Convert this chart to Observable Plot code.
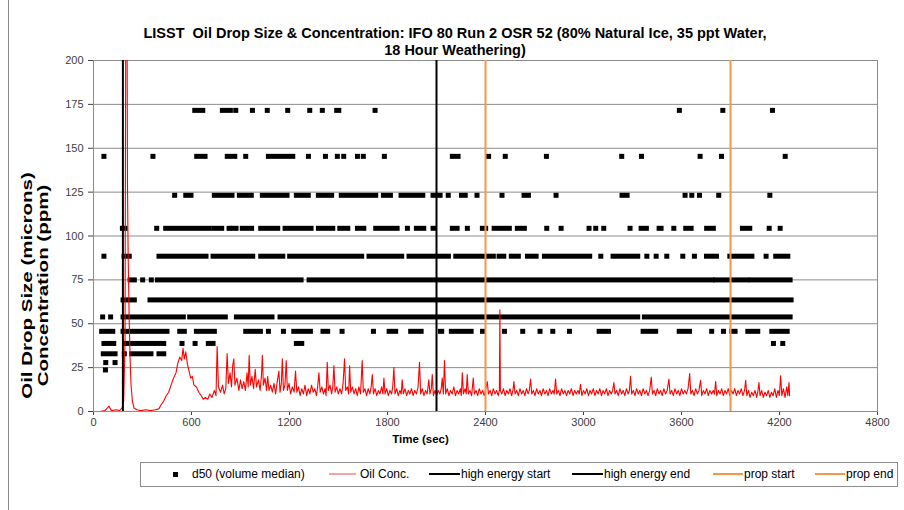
<!DOCTYPE html>
<html>
<head>
<meta charset="utf-8">
<script src="https://cdn.jsdelivr.net/npm/d3@7"></script>
<script src="https://cdn.jsdelivr.net/npm/@observablehq/plot@0.6"></script>
<style>
  body { margin: 0; background: #fff; }
  #wrap { position: relative; width: 904px; height: 510px; overflow: hidden; font-family: "Liberation Sans", Arial, sans-serif; background: #fff; }
  #border { position: absolute; left: 8px; top: 0; width: 1px; height: 510px; background: #8c8c8c; }
  #title { height: 59px; box-sizing: border-box; padding-top: 25px; padding-left: 6px; text-align: center; font-weight: bold; font-size: 14.5px; line-height: 17px; color: #000; }
  #legend { position: relative; height: 58px; font-size: 12px; color: #000; }
  #legend .box { position: absolute; left: 140px; top: 10px; width: 758px; height: 25px; border: 1px solid #8c8c8c; box-sizing: border-box; }
  #legend .it { position: absolute; top: 15px; line-height: 14px; white-space: nowrap; }
  #legend .sw { position: absolute; }
</style>
</head>
<body>
<div id="wrap">
  <div id="border"></div>
  <div id="title">LISST&nbsp; Oil Drop Size &amp; Concentration: IFO 80 Run 2 OSR 52 (80% Natural Ice, 35 ppt Water,<br>18 Hour Weathering)</div>
  <div id="chart"></div>
  <div id="legend"></div>
</div>
<script>
// ---------- axes ----------
const xTicks = [0, 600, 1200, 1800, 2400, 3000, 3600, 4200, 4800];
const yTicks = [0, 25, 50, 75, 100, 125, 150, 175, 200];
const xLabel = "Time (sec)";
const yLabel = "Oil Drop Size (microns)\nConcentration (ppm)";

// ---------- d50 (volume median): size bins (microns) and runs of consecutive samples [start s, end s] ----------
const d50Levels = [171.3, 145.1, 122.9, 104.1, 88.2, 74.7, 63.3, 53.6, 45.4, 38.5, 32.6, 27.6, 23.4];
const d50Runs171 = [[623,672],[792,841],[874,874],[976,976],[1067,1067],[1192,1192],[1327,1327],[1404,1404],[1492,1505],[1727,1727],[3590,3590],[3856,3856],[4160,4160]];
const d50Runs145 = [[67,67],[367,367],[635,686],[822,868],[935,935],[1074,1223],[1319,1319],[1423,1423],[1496,1496],[1535,1535],[1619,1619],[1655,1655],[1784,1784],[2200,2235],[2422,2422],[2524,2524],[2776,2776],[3237,3237],[3358,3358],[3717,3717],[3848,3848],[4238,4238]];
const d50Runs123 = [[500,500],[568,600],[743,851],[896,969],[1037,1188],[1245,1318],[1380,1461],[1520,1731],[1778,1821],[1886,2019],[2082,2125],[2175,2175],[2256,2279],[2351,2351],[2504,2504],[2639,2666],[2835,2835],[3239,3270],[3625,3625],[3666,3666],[3713,3713],[3831,3831],[4144,4144]];
const d50Runs104 = [[180,196],[390,390],[445,712],[741,788],[833,833],[858,876],[914,971],[1027,1131],[1176,1335],[1380,1468],[1511,1560],[1619,1658],[1731,1862],[1925,1925],[1980,2025],[2082,2090],[2200,2229],[2292,2292],[2384,2404],[2456,2549],[2598,2641],[2778,2778],[2866,2866],[3037,3037],[3078,3078],[3127,3127],[3288,3288],[3356,3388],[3466,3478],[3556,3556],[3629,3662],[3757,3798],[3976,4021],[4140,4140],[4207,4207]];
const d50Runs88 = [[67,67],[190,222],[404,692],[735,978],[1027,1162],[1204,1645],[1690,1890],[1935,2176],[2221,2451],[2486,2515],[2561,2604],[2660,2713],[2764,3041],[3109,3109],[3184,3335],[3391,3391],[3448,3448],[3513,3513],[3611,3611],[3682,3682],[3756,3817],[3899,4034],[4121,4121],[4180,4254]];
const d50Runs75 = [[227,253],[304,304],[357,357],[394,1274],[1323,3790],[3812,4005],[4030,4268]];
const d50Runs63 = [[184,253],[349,4274]];
const d50Runs54 = [[59,59],[108,108],[184,553],[592,810],[878,1096],[1145,3335],[3376,4268]];
const d50Runs45 = [[53,121],[184,453],[531,559],[633,743],[935,1025],[1074,1074],[1166,1166],[1229,1331],[1408,1437],[1525,1525],[1717,1717],[1813,1853],[1945,2009],[2127,2135],[2194,2315],[2385,2385],[2519,2519],[2631,2631],[2737,2737],[2815,2815],[2917,2917],[3099,3156],[3368,3445],[3589,3652],[3788,3788],[3860,3860],[3911,3931],[4009,4070],[4156,4250]];
const d50Runs38 = [[67,127],[196,433],[545,545],[625,625],[706,735],[1245,1278],[4166,4166],[4223,4223]];
const d50Runs33 = [[63,135],[192,192],[237,355],[404,433]];
const d50Runs28 = [[78,78],[135,135]];
const d50Runs23 = [[76,76]];
const d50RunsByLevel = [d50Runs171, d50Runs145, d50Runs123, d50Runs104, d50Runs88, d50Runs75, d50Runs63, d50Runs54, d50Runs45, d50Runs38, d50Runs33, d50Runs28, d50Runs23];

// ---------- Oil concentration (ppm) ----------
const oilTime = [0,40,70,95,110,140,160,175,185,193,198,205,208,212,218,224,230,238,248,265,290,320,350,380,400,415,430,445,460,475,490,505,515,528,540,548,556,565,575,585,595,605,615,630,645,660,672,685,700,712,725,740,750,757,765,778,790,800,810,818,826,836,845,852,859,866,878,890,900,910,920,930,940,947,953,960,970,980,990,998,1010,1020,1028,1034,1040,1050,1060,1066,1075,1085,1095,1105,1115,1125,1135,1142,1150,1156,1163,1172,1180,1187,1197,1207,1217,1228,1237,1245,1255,1265,1275,1285,1295,1305,1315,1325,1335,1345,1355,1365,1372,1380,1388,1398,1408,1418,1424,1431,1438,1448,1458,1465,1472,1479,1489,1499,1509,1519,1528,1537,1544,1554,1562,1568,1575,1585,1595,1605,1615,1625,1635,1645,1652,1662,1672,1682,1692,1700,1707,1714,1724,1734,1744,1754,1764,1772,1778,1785,1795,1805,1815,1825,1832,1839,1846,1856,1866,1876,1884,1890,1897,1907,1917,1927,1937,1947,1957,1967,1977,1987,1996,2003,2013,2023,2033,2043,2053,2060,2068,2074,2081,2091,2101,2111,2121,2129,2135,2142,2149,2156,2166,2176,2186,2196,2206,2216,2226,2236,2246,2252,2258,2265,2275,2282,2288,2295,2305,2315,2325,2332,2342,2352,2362,2372,2382,2392,2402,2411,2418,2428,2438,2448,2458,2468,2478,2485,2488,2491,2500,2510,2520,2530,2540,2550,2560,2568,2574,2581,2591,2601,2611,2621,2631,2641,2651,2661,2668,2676,2683,2693,2703,2713,2723,2733,2743,2753,2763,2773,2783,2793,2803,2813,2821,2829,2836,2846,2856,2866,2876,2886,2896,2906,2916,2926,2936,2946,2956,2966,2974,2982,2990,3000,3010,3020,3030,3040,3050,3060,3070,3080,3090,3100,3110,3120,3130,3140,3150,3160,3170,3178,3186,3193,3203,3213,3223,3233,3243,3253,3263,3273,3281,3288,3295,3305,3315,3325,3335,3345,3355,3365,3375,3385,3395,3405,3415,3422,3432,3442,3452,3462,3472,3482,3492,3502,3512,3523,3530,3540,3550,3560,3570,3580,3590,3600,3610,3620,3630,3640,3650,3657,3667,3677,3687,3697,3707,3717,3724,3734,3744,3754,3764,3774,3784,3794,3802,3809,3816,3826,3836,3846,3856,3866,3876,3886,3896,3906,3916,3926,3936,3946,3956,3966,3976,3986,3993,4000,4010,4020,4030,4040,4050,4060,4067,4074,4081,4091,4101,4111,4121,4131,4141,4151,4161,4171,4181,4191,4199,4207,4214,4224,4234,4244,4251,4258,4262];
const oilConc = [0,0,0.5,3,0.5,1,0.5,2,6,40,240,240,130,90,55,30,15,6,2,1,0.5,1,0.5,1,1.5,4,6,9,11,15,19,22,27,31,29,36,30,34,27,23,19,20,15,14,11,9,7,8,7,10,8,12,9,37,14,11,15,10,13,33,16,22,14,26,30,15,19,12,18,13,17,12,22,14,32,15,20,13,24,14,18,12,20,32,15,19,12,20,12,15,11,16,10,17,23,11,16,30,12,15,29,12,16,10,14,11,23,11,14,9,13,10,15,9,13,10,15,11,13,9,14,22,11,14,10,13,9,28,12,15,10,14,26,11,14,10,13,10,16,30,12,14,10,26,11,14,10,13,9,14,10,29,11,13,9,13,10,14,21,10,13,9,12,10,14,10,19,10,13,9,12,10,14,25,10,13,9,12,10,18,10,13,9,12,10,13,9,12,10,14,28,10,13,9,12,10,18,10,13,21,9,12,9,12,10,13,19,10,29,10,13,9,12,10,14,9,12,10,13,9,22,10,13,10,21,10,12,9,19,10,12,9,13,10,12,9,13,17,10,12,9,13,10,12,9,12,58,12,10,13,9,12,10,13,9,12,17,10,12,9,13,10,12,9,13,10,12,18.5,10,12,9,13,10,12,9,13,10,12,9,13,10,12,10,18.5,10,12,9,13,10,12,9,12,10,13,9,12,10,12,10,15.5,9,12,10,13,9,12,10,13,9,12,10,13,9,12,10,13,9,12,10,12,16.5,10,12,9,13,10,12,9,13,10,12,20,10,12,9,13,10,12,9,13,10,12,9,12,19.6,10,12,9,13,10,12,9,13,10,12,18.5,10,12,9,13,10,12,9,13,10,12,10,13,21.6,10,12,9,13,10,12,17.8,9,12,10,13,9,12,10,12,10,17,9,12,10,13,9,12,10,13,9,12,10,13,9,12,10,13,9,12,17.8,9,12,8,11,9,12,8,11,16.5,9,12,8,11,9,12,8,11,9,13,8,12,9,20.4,9,13,8,14,9,16.5,9];

// ---------- event markers ----------
const eventNames = ["high energy start", "high energy end", "prop start", "prop end"];
const eventTimes = [180, 2100, 2400, 3900];
const eventColors = ["#000000", "#000000", "#f79646", "#f79646"];

// ---------- build tables ----------
const d50Table = d50Levels.flatMap((lv, i) => d50RunsByLevel[i].map(([a, b]) => ({level: lv, t0: a, t1: b})));
const oilTable = oilTime.map((t, i) => ({t, v: oilConc[i]}));
const eventTable = eventTimes.map((t, i) => ({t, name: eventNames[i], color: eventColors[i]}));
const grey = "#8c8c8c";
const FONT = "'Liberation Sans', Arial, sans-serif";

const chart = Plot.plot({
  width: 904,
  height: 393,
  marginLeft: 93,
  marginRight: 27,
  marginTop: 1,
  marginBottom: 41,
  style: {fontFamily: FONT, fontSize: "11px", color: "#404040", background: "transparent", overflow: "visible"},
  x: {domain: [0, 4800], ticks: xTicks, tickFormat: d => String(d), tickSize: 4, tickPadding: 3, label: null},
  y: {domain: [0, 200], ticks: yTicks, tickFormat: d => String(d), tickSize: 5, tickPadding: 5, label: null},
  marks: [
    Plot.ruleY(yTicks, {stroke: grey, strokeWidth: 1}),
    Plot.frame({stroke: grey, strokeWidth: 1}),
    Plot.rect(d50Table, {x1: "t0", x2: "t1", y1: "level", y2: "level", fill: "#000", insetLeft: -2.5, insetRight: -2.5, insetTop: -2.5, insetBottom: -2.5}),
    Plot.line(oilTable, {x: "t", y: "v", stroke: "#ff0000", strokeWidth: 1.1, clip: true}),
    Plot.ruleX(eventTable.filter(d => d.color === "#000000"), {x: "t", stroke: "#000000", strokeWidth: 2}),
    Plot.ruleX(eventTable.filter(d => d.color !== "#000000"), {x: "t", stroke: "#f79646", strokeWidth: 2}),
    Plot.text([xLabel], {frameAnchor: "bottom", dx: -65, dy: 31, fontWeight: "bold", fontSize: 11.5, fontFamily: FONT, fill: "#000"}),
    Plot.text([yLabel], {frameAnchor: "left", textAnchor: "middle", lineAnchor: "middle", rotate: -90, fontWeight: "bold", fontSize: 20.5, lineHeight: 1.05, fontFamily: FONT, fill: "#000"})
  ]
});
document.getElementById("chart").appendChild(chart);

// place the rotated two-line axis title (centred at x=35, page y=285.5 => svg y=226.5) and squeeze it across its lines
chart.querySelectorAll("text").forEach(t => {
  if (t.textContent.includes("Oil Drop Size")) {
    if (t.parentNode && t.parentNode.tagName === "g") t.parentNode.removeAttribute("transform");
    t.setAttribute("transform", "translate(35,226.5) rotate(-90) scale(1,0.72)");
  }
});

// ---------- legend ----------
const legend = document.getElementById("legend");
const box = document.createElement("div"); box.className = "box"; legend.appendChild(box);
const legendItems = [
  {label: "d50 (volume median)", kind: "square", color: "#000", sx: 172.5, tx: 192},
  {label: "Oil Conc.", kind: "line", color: "#f4a6a6", sx: 329, sw: 27, tx: 360},
  {label: eventNames[0], kind: "line", color: eventColors[0], sx: 429, sw: 31, tx: 461},
  {label: eventNames[1], kind: "line", color: eventColors[1], sx: 572, sw: 31, tx: 604},
  {label: eventNames[2], kind: "line", color: eventColors[2], sx: 713, sw: 30, tx: 744},
  {label: eventNames[3], kind: "line", color: eventColors[3], sx: 815, sw: 30, tx: 846}
];
legendItems.forEach(d => {
  const s = document.createElement("div");
  s.className = "sw";
  if (d.kind === "square") {
    s.style.cssText = `left:${d.sx}px;top:19.5px;width:5px;height:5px;background:${d.color};`;
  } else {
    s.style.cssText = `left:${d.sx}px;top:21px;width:${d.sw}px;height:2px;background:${d.color};`;
  }
  legend.appendChild(s);
  const t = document.createElement("div");
  t.className = "it";
  t.style.left = d.tx + "px";
  t.textContent = d.label;
  legend.appendChild(t);
});
</script>
</body>
</html>
